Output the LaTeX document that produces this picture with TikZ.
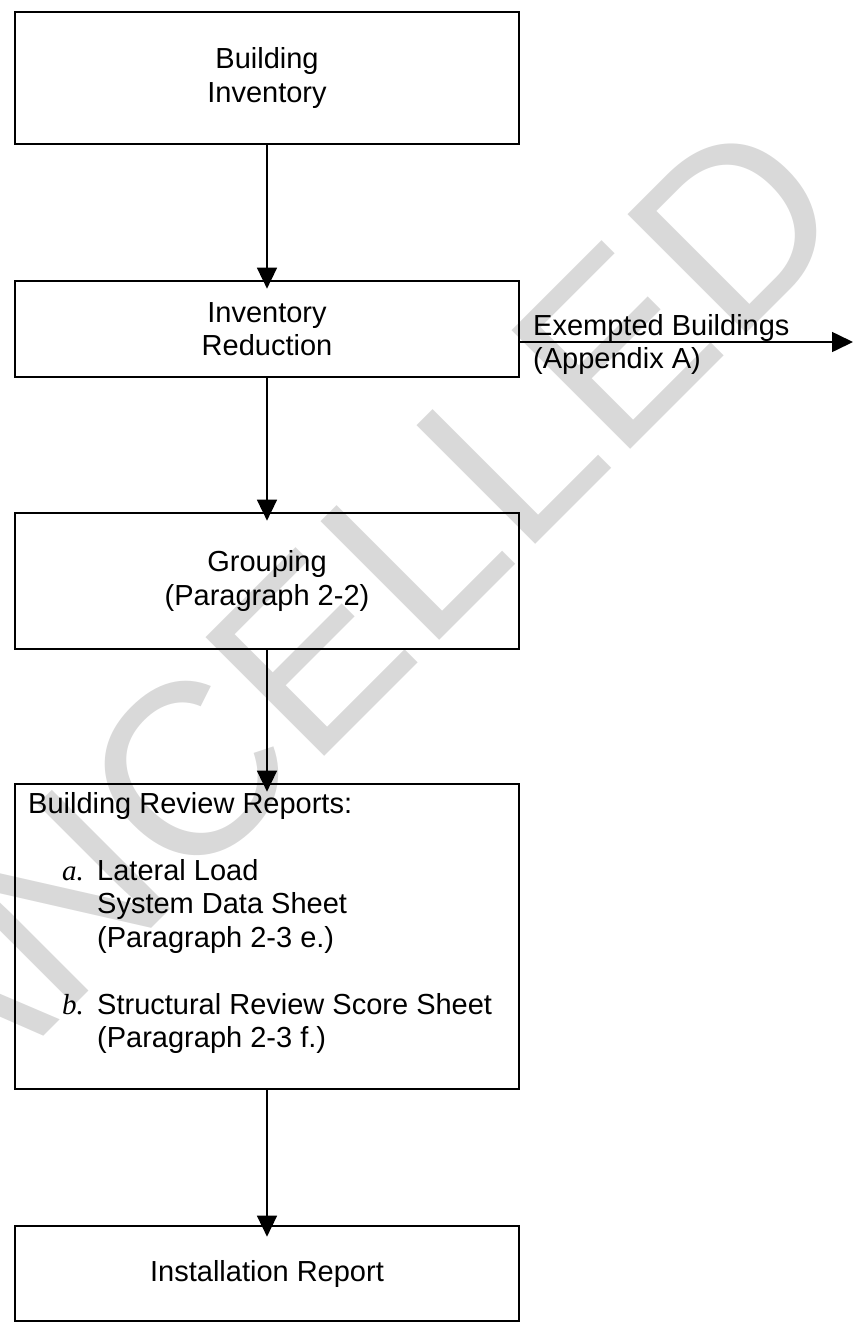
\documentclass[tikz,border=0pt]{standalone}
\usepackage{fontspec}
\setmainfont{Liberation Sans}
\newfontfamily\serifit{Liberation Serif}
\usetikzlibrary{arrows.meta}
\newcommand\bodysize{\fontsize{29}{33.5}\selectfont}
\newcommand\wmsize{\fontsize{244}{244}\selectfont}
\begin{document}
\begin{tikzpicture}[x=1pt,y=1pt,
  box/.style={draw, line width=2.7pt, minimum width=504pt, inner sep=0pt, align=center, font=\bodysize},
  arr/.style={line width=1.6pt, -{Triangle[width=20pt,length=21pt]}},
  lbl/.style={anchor=base west, inner sep=0pt, font=\bodysize},
  wm/.style={anchor=base, inner sep=0pt, rotate=45, text=black!15, font=\wmsize}]
\useasboundingbox (0,0) rectangle (853,-1323);
\clip (0,0) rectangle (853,-1323);
% watermark
\node[wm] (wm) at (339,-741) {CANCELLED};
% boxes
\node[box, minimum height=132pt] (b1) at (267,-78) {Building\\Inventory};
\node[box, minimum height=96pt] (b2) at (267,-329) {Inventory\\Reduction};
\node[box, minimum height=136pt] (b3) at (267,-581) {Grouping\\(Paragraph 2-2)};
\node[box, minimum height=305pt] (b4) at (267,-936.5) {};
\node[box, minimum height=95pt] (b5) at (267,-1273.5) {\raisebox{-8pt}{Installation Report}};
% box 4 contents
\node[lbl] (t0) at (28,-813) {Building Review Reports:};
\node[lbl] (la) at (62,-880) {\serifit\itshape a.};
\node[lbl] (ta1) at (97,-880) {Lateral Load};
\node[lbl] (ta2) at (97,-913.5) {System Data Sheet};
\node[lbl] (ta3) at (97,-947) {(Paragraph 2-3 e.)};
\node[lbl] (lb) at (62,-1014) {\serifit\itshape b.};
\node[lbl] (tb1) at (97,-1014) {Structural Review Score Sheet};
\node[lbl] (tb2) at (97,-1047.5) {(Paragraph 2-3 f.)};
% exempted branch
\coordinate (exend) at (853,-342);
\node[lbl] (ex1) at (533,-335) {Exempted Buildings};
\node[lbl] (ex2) at (533,-368) {(Appendix A)};
% connectors
\draw[arr] (b1.south) -- ([yshift=-9pt]b2.north);
\draw[arr] (b2.south) -- ([yshift=-9pt]b3.north);
\draw[arr] (b3.south) -- ([yshift=-9pt]b4.north);
\draw[arr] (b4.south) -- ([yshift=-12pt]b5.north);
\draw[arr] (b2.east |- exend) -- (exend);
\end{tikzpicture}
\end{document}
